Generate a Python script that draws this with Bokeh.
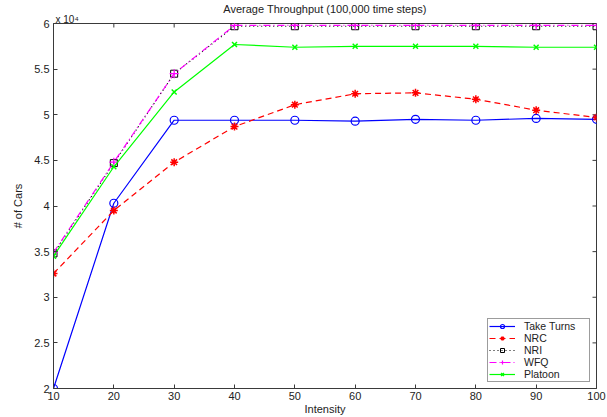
import math
from bokeh.plotting import figure
from bokeh.models import FixedTicker, NumeralTickFormatter, Legend, LegendItem, Range1d, Title
from bokeh.embed import file_html
from bokeh.resources import INLINE

intensity = [10, 20, 30, 40, 50, 60, 70, 80, 90, 100]
take_turns = [2.00, 4.03, 4.94, 4.94, 4.94, 4.93, 4.95, 4.94, 4.96, 4.95]
nrc = [3.26, 3.95, 4.48, 4.87, 5.11, 5.23, 5.24, 5.17, 5.05, 4.97]
nri = [3.48, 4.47, 5.45, 5.97, 5.97, 5.97, 5.97, 5.97, 5.97, 5.97]
wfq = [3.49, 4.48, 5.45, 5.98, 5.98, 5.98, 5.98, 5.98, 5.98, 5.98]
platoon = [3.45, 4.43, 5.25, 5.77, 5.74, 5.75, 5.75, 5.75, 5.74, 5.74]

x_ticks = [10, 20, 30, 40, 50, 60, 70, 80, 90, 100]
y_ticks = [2, 2.5, 3, 3.5, 4, 4.5, 5, 5.5, 6]
x_min, x_max = 10, 100
y_min, y_max = 2, 6

FONT = "Liberation Sans"
TXT = "#222222"
AX = "#3a3a3a"

p = figure(width=607, height=417, output_backend="svg", toolbar_location=None,
           x_range=Range1d(x_min, x_max), y_range=Range1d(y_min, y_max),
           title="Average Throughput (100,000 time steps)",
           min_border_left=53, min_border_right=11, min_border_top=23, min_border_bottom=29)
p.title.align = "center"
p.title.text_font = FONT
p.title.text_font_size = "11px"
p.title.text_font_style = "normal"
p.title.text_color = TXT
p.title.standoff = -3
p.title.offset = 0
p.outline_line_color = AX
p.xgrid.visible = False
p.ygrid.visible = False

mult = Title(text="x 10\u2074", align="left", text_font=FONT, text_font_size="10px",
             text_font_style="normal", text_color=TXT, offset=2, standoff=-3)
p.add_layout(mult, "above")

for ax in (p.xaxis[0], p.yaxis[0]):
    ax.major_tick_in = 4
    ax.major_tick_out = 0
    ax.minor_tick_in = 0
    ax.minor_tick_out = 0
    ax.axis_line_color = AX
    ax.major_tick_line_color = AX
    ax.major_label_text_font = FONT
    ax.major_label_text_font_size = "11px"
    ax.major_label_text_color = TXT
    ax.axis_label_text_font = FONT
    ax.axis_label_text_font_size = "11px"
    ax.axis_label_text_font_style = "normal"
    ax.axis_label_text_color = TXT

p.xaxis[0].ticker = FixedTicker(ticks=x_ticks)
p.yaxis[0].ticker = FixedTicker(ticks=y_ticks)
p.yaxis[0].formatter = NumeralTickFormatter(format="0.[0]")
p.xaxis[0].axis_label = "Intensity"
p.yaxis[0].axis_label = "# of Cars"
p.xaxis[0].major_label_standoff = 3
p.xaxis[0].axis_label_standoff = 0
p.yaxis[0].major_label_standoff = 4
p.yaxis[0].axis_label_standoff = 7

# inward ticks on the top and right edges of the box (half of each dash is clipped by the frame)
p.scatter(x_ticks, [y_max] * len(x_ticks), marker="dash", angle=math.pi / 2, size=8,
          line_color=AX, line_width=1)
p.scatter([x_max] * len(y_ticks), y_ticks, marker="dash", size=8, line_color=AX, line_width=1)

blue, red, black, magenta, green = "#0000ff", "#ff0000", "#000000", "#ff00ff", "#00ff00"

l1 = p.line(intensity, take_turns, line_color=blue, line_width=1.2)
m1 = p.scatter(intensity, take_turns, marker="circle", size=8, fill_color=None, line_color=blue, line_width=1.2)
l2 = p.line(intensity, nrc, line_color=red, line_width=1.2, line_dash="6 4")
m2 = p.scatter(intensity, nrc, marker="asterisk", size=8, line_color=red, line_width=1.5)
l3 = p.line(intensity, nri, line_color=black, line_width=1.2, line_dash="1 3")
m3 = p.scatter(intensity, nri, marker="square", size=7, fill_color=None, line_color=black, line_width=1)
l4 = p.line(intensity, wfq, line_color=magenta, line_width=1.2, line_dash="7 3 1 3")
m4 = p.scatter(intensity, wfq, marker="cross", size=9, line_color=magenta, line_width=1.2)
l5 = p.line(intensity, platoon, line_color=green, line_width=1.2)
m5 = p.scatter(intensity, platoon, marker="x", size=7, line_color=green, line_width=1.5)

legend = Legend(items=[
    LegendItem(label="Take Turns", renderers=[l1, m1]),
    LegendItem(label="NRC", renderers=[l2, m2]),
    LegendItem(label="NRI", renderers=[l3, m3]),
    LegendItem(label="WFQ", renderers=[l4, m4]),
    LegendItem(label="Platoon", renderers=[l5, m5]),
], location="bottom_right")
legend.margin = 6
legend.padding = 1
legend.spacing = 0
legend.label_height = 10
legend.glyph_height = 10
legend.glyph_width = 26
legend.label_standoff = 9
legend.label_width = 64
legend.label_text_font = FONT
legend.label_text_font_size = "10.5px"
legend.label_text_color = TXT
legend.border_line_color = AX
legend.border_line_width = 1
legend.background_fill_alpha = 1
p.add_layout(legend, "center")

open("out.html", "w").write(file_html(p, INLINE))
